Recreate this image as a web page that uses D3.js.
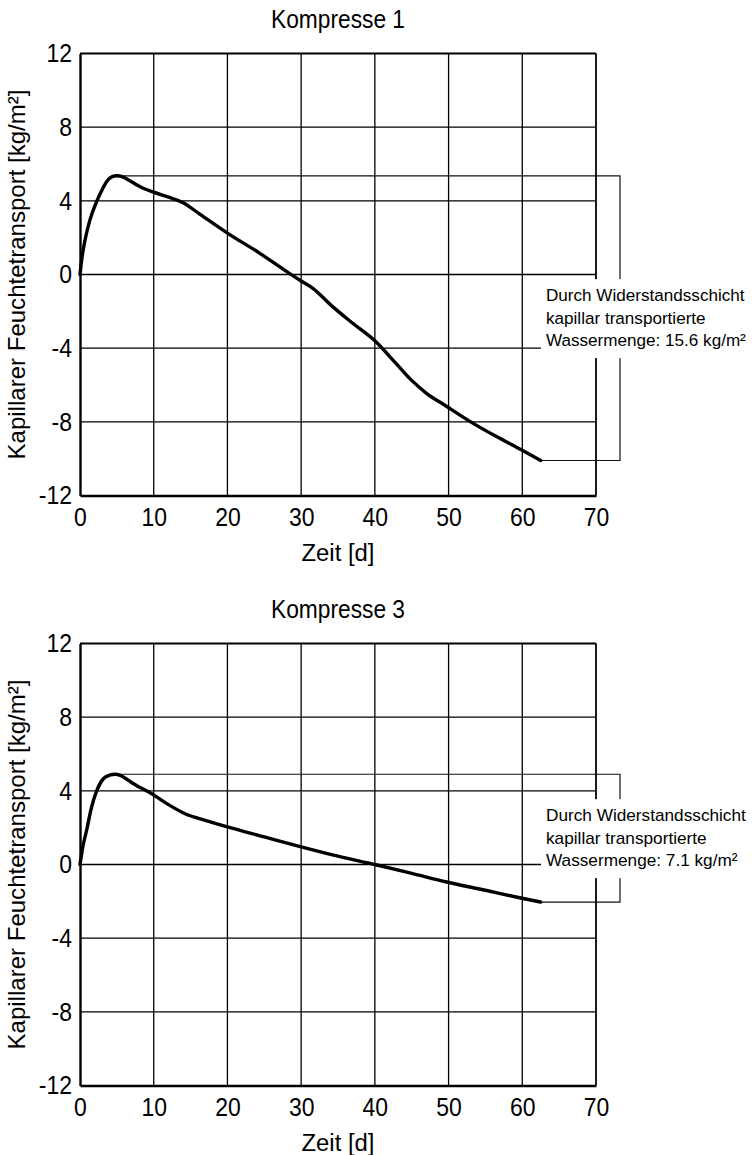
<!DOCTYPE html>
<html><head><meta charset="utf-8">
<script src="https://cdn.jsdelivr.net/npm/d3@7"></script>
<style>
body{margin:0;background:#fff}
svg{display:block}
text{font-family:"Liberation Sans",Arial,Helvetica,sans-serif;fill:#000}
</style>
</head><body>
<svg id="chart" width="752" height="1155"></svg>
<script>
// ---- data ----
const xTicks = [0, 10, 20, 30, 40, 50, 60, 70];
const yTicks = [-12, -8, -4, 0, 4, 8, 12];
const titles = ["Kompresse 1", "Kompresse 3"];
const xLabel = "Zeit [d]";
const yLabel = "Kapillarer Feuchtetransport [kg/m²]";

const k1Days   = [0, 0.3, 0.7, 1.3, 2.3, 3.0, 3.6, 4.3, 5.0, 5.8, 6.5, 8.5, 10, 12, 14, 16, 20, 24.4, 28.4, 30, 31.6, 34, 37, 40, 42.8, 45, 47, 49.5, 53, 56.5, 59.8, 62.5];
const k1Values = [0, 1.0, 1.9, 2.9, 4.0, 4.6, 5.04, 5.3, 5.36, 5.3, 5.15, 4.7, 4.47, 4.2, 3.9, 3.35, 2.25, 1.15, 0.06, -0.35, -0.75, -1.65, -2.65, -3.6, -4.8, -5.75, -6.45, -7.1, -8.0, -8.8, -9.5, -10.1];

const k3Days   = [0, 0.4, 0.9, 1.5, 2.3, 3.2, 4.0, 4.8, 5.5, 7.2, 10, 12, 14.4, 17, 20, 25, 30, 35, 40, 45, 49.75, 55, 59.8, 62.5];
const k3Values = [0, 1.0, 1.86, 3.0, 4.04, 4.67, 4.85, 4.9, 4.83, 4.4, 3.77, 3.25, 2.73, 2.4, 2.04, 1.5, 0.96, 0.45, 0, -0.48, -0.95, -1.4, -1.82, -2.04];

const note1 = ["Durch Widerstandsschicht", "kapillar transportierte", "Wassermenge: 15.6 kg/m²"];
const note3 = ["Durch Widerstandsschicht", "kapillar transportierte", "Wassermenge: 7.1 kg/m²"];

const panels = [
  {title: titles[0], days: k1Days, values: k1Values, note: note1, offset: 0},
  {title: titles[1], days: k3Days, values: k3Values, note: note3, offset: 590}
];

// ---- layout ----
const L = 80, R = 596, T = 53.5, B = 495.5;
const svg = d3.select("#chart");

function fitText(sel, len) {
  sel.attr("textLength", len).attr("lengthAdjust", "spacingAndGlyphs");
}
function squeeze(sel, ratio) {
  sel.each(function() {
    const w = this.getComputedTextLength();
    d3.select(this).attr("textLength", w * ratio).attr("lengthAdjust", "spacingAndGlyphs");
  });
}

panels.forEach(p => {
  const g = svg.append("g").attr("transform", `translate(0,${p.offset})`);
  const x = d3.scaleLinear().domain([0, 70]).range([L, R]);
  const y = d3.scaleLinear().domain([-12, 12]).range([B, T]);

  // grid
  g.append("g").selectAll("line").data(yTicks.filter(v => v > -12)).join("line")
    .attr("x1", L).attr("x2", R).attr("y1", d => y(d)).attr("y2", d => y(d))
    .attr("stroke", "#000").attr("stroke-width", d => d === 12 ? 1.8 : 1.3);
  g.append("g").selectAll("line").data(xTicks.filter(v => v > 0)).join("line")
    .attr("x1", d => x(d)).attr("x2", d => x(d)).attr("y1", T).attr("y2", B)
    .attr("stroke", "#000").attr("stroke-width", d => d === 70 ? 1.8 : 1.3);

  // axes
  const xa = g.append("g").attr("transform", `translate(0,${B})`)
    .call(d3.axisBottom(x).tickValues(xTicks).tickSize(0).tickPadding(12.5).tickFormat(d => String(d)));
  const ya = g.append("g").attr("transform", `translate(${L},0)`)
    .call(d3.axisLeft(y).tickValues(yTicks).tickSize(0).tickPadding(8).tickFormat(d => String(d)));
  [xa, ya].forEach(a => {
    a.select(".domain").attr("stroke", "#000").attr("stroke-width", 2.4);
    a.selectAll("text").attr("font-size", 25.5).attr("font-family", null).attr("fill", "#000").call(squeeze, 0.9);
  });

  // title and labels
  g.append("text").attr("x", (L + R) / 2).attr("y", 28.3).attr("text-anchor", "middle")
    .attr("font-size", 26).text(p.title).call(fitText, 134);
  g.append("text").attr("x", (L + R) / 2).attr("y", 561).attr("text-anchor", "middle")
    .attr("font-size", 23).text(xLabel).call(fitText, 73);
  g.append("text").attr("transform", `translate(24.5,${(T + B) / 2}) rotate(-90)`)
    .attr("text-anchor", "middle").attr("font-size", 24).text(yLabel).call(fitText, 370);

  // annotation bracket
  const n = p.values.length;
  const pk = d3.maxIndex(p.values);
  const px = x(p.days[pk]), py = y(p.values[pk]);
  const ex = x(p.days[n - 1]), ey = y(p.values[n - 1]);
  const bx = 620;
  g.append("path").attr("d", `M${px},${py}H${bx}V${ey}H${ex}`)
    .attr("stroke", "#111").attr("stroke-width", 1.2).attr("fill", "none");

  const cy = (py + ey) / 2;
  g.append("rect").attr("x", 541).attr("y", cy - 39).attr("width", 211).attr("height", 79).attr("fill", "#fff");
  const texts = g.append("g").selectAll("text").data(p.note).join("text")
    .attr("x", 546).attr("y", (d, i) => cy - 17 + i * 22.5)
    .attr("font-size", 18).text(d => d);
  const wMax = d3.max(texts.nodes(), n => n.getComputedTextLength());
  texts.attr("font-size", 18 * 200 / wMax);

  // curve
  const line = d3.line().x((d, i) => x(p.days[i])).y(d => y(d)).curve(d3.curveMonotoneX);
  g.append("path").attr("d", line(p.values)).attr("fill", "none")
    .attr("stroke", "#000").attr("stroke-width", 3.4).attr("stroke-linejoin", "round").attr("stroke-linecap", "round");
});
</script>
</body></html>
